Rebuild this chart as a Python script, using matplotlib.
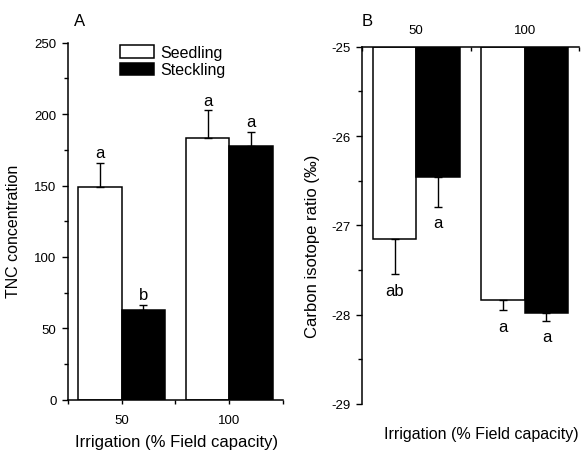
import matplotlib.pyplot as plt
from matplotlib.ticker import MultipleLocator

plt.rcParams['font.family'] = ['Liberation Sans', 'DejaVu Sans']

# irrigation levels (% field capacity)
irrigation = [50, 100]

# A: total non-structural carbohydrates
tnc_seedling = [149, 183]
tnc_seedling_err = [16.6, 19.6]
tnc_steckling = [63, 178]
tnc_steckling_err = [3.4, 9.4]
tnc_seedling_sig = ['a', 'a']
tnc_steckling_sig = ['b', 'a']

# B: carbon isotope ratio (per mil)
cir_seedling = [-27.15, -27.84]
cir_seedling_err = [0.40, 0.11]
cir_steckling = [-26.46, -27.98]
cir_steckling_err = [0.33, 0.09]
cir_seedling_sig = ['ab', 'a']
cir_steckling_sig = ['a', 'a']

bw = 20
fs = 12

fig = plt.figure(figsize=(5.84, 4.52), dpi=100)
axA = fig.add_axes([0.1159, 0.1135, 0.3692, 0.7898])
axB = fig.add_axes([0.6199, 0.104, 0.3716, 0.7905])

# ---- panel A ----
xs = [v - bw / 2 for v in irrigation]
xt = [v + bw / 2 for v in irrigation]
axA.bar(xs, tnc_seedling, width=bw, color='white', edgecolor='black', linewidth=1.1,
        label='Seedling')
axA.bar(xt, tnc_steckling, width=bw, color='black', edgecolor='black', linewidth=1.1,
        label='Steckling')
for x, y, e in [(xs, tnc_seedling, tnc_seedling_err), (xt, tnc_steckling, tnc_steckling_err)]:
    axA.errorbar(x, y, yerr=[[0] * len(e), e], fmt='none', ecolor='black',
                 elinewidth=1, capsize=2.6, capthick=1)
for x, y, e, s in [(xs, tnc_seedling, tnc_seedling_err, tnc_seedling_sig),
                   (xt, tnc_steckling, tnc_steckling_err, tnc_steckling_sig)]:
    for xi, yi, ei, si in zip(x, y, e, s):
        axA.annotate(si, (xi, yi + ei), xytext=(0, 2), textcoords='offset points',
                     ha='center', va='bottom', fontsize=fs)

axA.set_xlim(25, 125)
axA.set_ylim(0, 250)
axA.set_xticks(irrigation)
axA.xaxis.set_minor_locator(MultipleLocator(25))
axA.yaxis.set_major_locator(MultipleLocator(50))
axA.yaxis.set_minor_locator(MultipleLocator(25))
axA.spines[['top', 'right']].set_visible(False)
for sp in axA.spines.values():
    sp.set_linewidth(1.1)
axA.tick_params(which='major', direction='out', length=4.5, width=1, labelsize=9.5, pad=3.5)
axA.tick_params(which='minor', direction='out', length=3, width=1)
axA.tick_params(axis='x', which='major', length=3, pad=7)
axA.legend(loc='upper left', bbox_to_anchor=(120 / 584, 1 - 46 / 452),
           bbox_transform=fig.transFigure, frameon=False, fontsize=11.5,
           borderpad=0, borderaxespad=0, handlelength=2.15, handleheight=0.8,
           handletextpad=0.4, labelspacing=0.15)

# ---- panel B ----
base = -25
axB.bar(xs, [v - base for v in cir_seedling], bottom=base, width=bw, color='white',
        edgecolor='black', linewidth=1.1)
axB.bar(xt, [v - base for v in cir_steckling], bottom=base, width=bw, color='black',
        edgecolor='black', linewidth=1.1)
for x, y, e in [(xs, cir_seedling, cir_seedling_err), (xt, cir_steckling, cir_steckling_err)]:
    axB.errorbar(x, y, yerr=[e, [0] * len(e)], fmt='none', ecolor='black',
                 elinewidth=1, capsize=2.6, capthick=1)
for x, y, e, s in [(xs, cir_seedling, cir_seedling_err, cir_seedling_sig),
                   (xt, cir_steckling, cir_steckling_err, cir_steckling_sig)]:
    for xi, yi, ei, si in zip(x, y, e, s):
        axB.annotate(si, (xi, yi - ei), xytext=(0, -6), textcoords='offset points',
                     ha='center', va='top', fontsize=fs)

axB.set_xlim(25, 125)
axB.set_ylim(-29, -25)
axB.xaxis.tick_top()
axB.set_xticks(irrigation)
axB.xaxis.set_minor_locator(MultipleLocator(25))
axB.yaxis.set_major_locator(MultipleLocator(1))
axB.yaxis.set_minor_locator(MultipleLocator(0.5))
axB.spines[['bottom', 'right']].set_visible(False)
for sp in axB.spines.values():
    sp.set_linewidth(1.1)
axB.tick_params(which='major', direction='out', length=4.5, width=1, labelsize=9.5, pad=4)
axB.tick_params(which='minor', direction='out', length=3, width=1)
axB.tick_params(axis='x', which='both', direction='in', length=3, pad=8)
axB.set_yticklabels([f'{int(v)}' for v in axB.get_yticks()])

# panel letters and axis titles
fig.text(80 / 584, 1 - 22 / 452, 'A', ha='center', va='center', fontsize=fs)
fig.text(367 / 584, 1 - 21 / 452, 'B', ha='center', va='center', fontsize=fs)
fig.text(14 / 584, 1 - 231 / 452, 'TNC concentration', rotation=90,
         ha='center', va='center', fontsize=11.5)
fig.text(313 / 584, 1 - 246 / 452, 'Carbon isotope ratio (‰)', rotation=90,
         ha='center', va='center', fontsize=12)
fig.text(177 / 584, 1 - 443 / 452, 'Irrigation (% Field capacity)',
         ha='center', va='center', fontsize=12)
fig.text(481 / 584, 1 - 435 / 452, 'Irrigation (% Field capacity)',
         ha='center', va='center', fontsize=11.5)

fig.savefig('out.png', dpi=100)
